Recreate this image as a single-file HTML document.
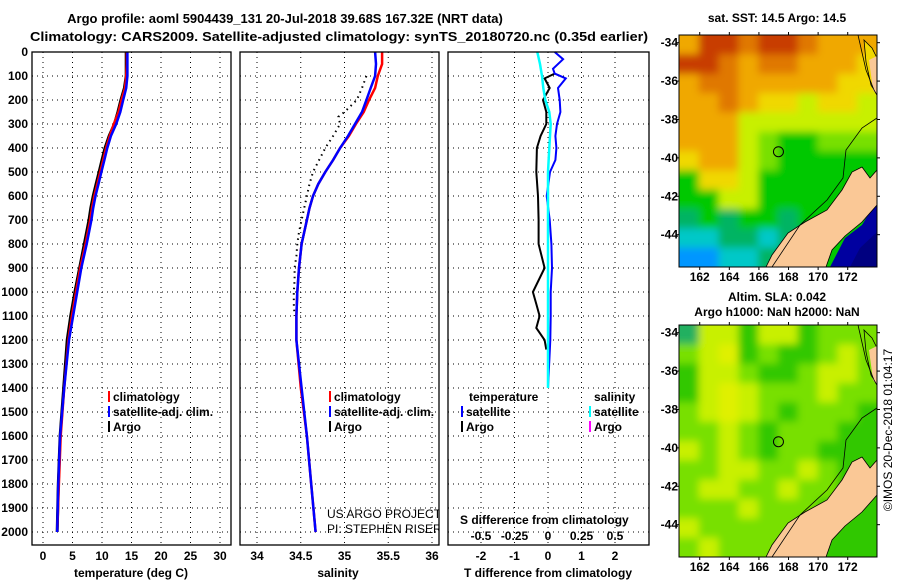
<!DOCTYPE html>
<html><head><meta charset="utf-8"><style>
html,body{margin:0;padding:0;background:#fff;}
svg{display:block;font-family:"Liberation Sans",sans-serif;font-weight:bold;}
</style></head><body>
<svg id="fig" width="900" height="580" viewBox="0 0 900 580" xmlns="http://www.w3.org/2000/svg">
<defs>
<filter id="blur" x="-10%" y="-10%" width="120%" height="120%"><feGaussianBlur stdDeviation="4"/></filter>
<clipPath id="m1"><rect x="679" y="35" width="198" height="232"/></clipPath>
<clipPath id="m2"><rect x="679" y="325" width="198" height="232"/></clipPath>
</defs>
<text x="285" y="23" font-size="13" text-anchor="middle">Argo profile: aoml 5904439_131 20-Jul-2018 39.68S 167.32E (NRT data)</text>
<text x="30" y="41" font-size="13" textLength="618" lengthAdjust="spacingAndGlyphs">Climatology: CARS2009. Satellite-adjusted climatology: synTS_20180720.nc (0.35d earlier)</text>
<text x="777" y="22" font-size="12" text-anchor="middle">sat. SST: 14.5 Argo: 14.5</text>
<text x="777" y="301" font-size="12" text-anchor="middle">Altim. SLA: 0.042</text>
<text x="777" y="316" font-size="12" text-anchor="middle">Argo h1000: NaN h2000: NaN</text>
<text transform="translate(892,430) rotate(-90)" font-size="12" font-weight="normal" text-anchor="middle">©IMOS 20-Dec-2018 01:04:17</text>
<g id="g"></g>
</svg>
<script>
// ---- data ----
const depths = [0,50,100,150,200,250,300,350,400,450,500,550,600,650,700,800,900,1000,1100,1200,1400,1600,1800,2000];
const tempClim = [14.2,14.2,14.1,13.9,13.3,12.8,12.0,11.3,10.7,10.2,9.7,9.2,8.7,8.3,8.0,7.2,6.3,5.6,4.9,4.3,3.6,3.0,2.7,2.4];
const tempSat  = [14.3,14.3,14.3,14.1,13.6,13.1,12.4,11.5,10.9,10.4,9.9,9.4,8.9,8.5,8.2,7.4,6.5,5.8,5.1,4.4,3.6,2.9,2.6,2.4];
const tempArgo = [14.1,14.1,14.1,13.8,13.2,12.7,12.1,11.2,10.5,10.0,9.5,9.0,8.5,8.1,7.8,7.0,6.2,5.4,4.7,4.1,3.5,2.9,2.6,2.4];
const salClim = [35.43,35.43,35.38,35.35,35.28,35.22,35.13,35.05,34.95,34.87,34.78,34.70,34.64,34.60,34.57,34.51,34.48,34.46,34.45,34.45,34.50,34.57,34.62,34.67];
const salSat  = [35.35,35.36,35.35,35.30,35.25,35.20,35.12,35.04,34.95,34.87,34.78,34.70,34.64,34.60,34.57,34.51,34.48,34.46,34.45,34.45,34.51,34.57,34.62,34.67];
const argoSalDepths = [100,150,200,250,270,300,350,400,450,500,550,600,650,700,750,800,850,900,950,1000,1050,1100];
const argoSal = [35.25,35.20,35.14,35.00,34.93,34.95,34.87,34.78,34.71,34.64,34.60,34.57,34.54,34.51,34.48,34.46,34.45,34.43,34.43,34.42,34.42,34.43];
const dTDepths = [90,110,150,200,250,300,350,400,500,600,700,800,900,1000,1050,1100,1150,1200,1240];
const dTArgo = [0.2,-0.1,0.05,-0.15,-0.05,-0.05,-0.22,-0.33,-0.35,-0.3,-0.28,-0.28,-0.1,-0.45,-0.35,-0.25,-0.35,-0.1,-0.05];
const dTSatDepths = [0,30,70,90,110,150,200,250,300,350,400,450,500,600,700,800,900,1000,1100,1200,1400];
const dTSat = [0.2,0.45,0.15,0.2,0.53,0.3,0.35,0.37,0.27,0.22,0.25,0.22,0.06,-0.04,0.05,0.1,0.12,0.08,0.08,0.07,0.0];
const dSSatDepths = [0,50,100,150,200,250,300,400,500,700,1000,1400];
const dSSat = [-0.08,-0.06,-0.045,-0.035,-0.02,0.01,0.02,0.01,0.0,0.0,0.0,0.0];
const depthTicks = [0,100,200,300,400,500,600,700,800,900,1000,1100,1200,1300,1400,1500,1600,1700,1800,1900,2000];
const tempTicks = [0,5,10,15,20,25,30];
const salTicks = [34,34.5,35,35.5,36];
const salTickLabels = ["34","34.5","35","35.5","36"];
const dTTicks = [-2,-1,0,1,2];
const dSTickLabels = ["-0.5","-0.25","0","0.25","0.5"];
const lonTicks = [162,164,166,168,170,172];
const latTicks = [-34,-36,-38,-40,-42,-44];
const sstGrid = [
"ARRORROAAA","RROAOOAAAY","AOOAAAAAYY","AAOAYYLYYL","AAALLLLLLL","AAALGggGGG",
"YAALGggggg","gYYLgggggg","ggLLgggggg","TgTggTgggg","CCTTCTTggg","BBCCTTgggD"];
const slaGrid = [
"TLLgLLgGGG","GLYgGggGLG","gLLGggGLLG","gLYLGGGLGG","GLYLGgGGGg","GGLGgGGGgg",
"LGLGgGGggg","GGLLGGLGgg","GLLGGLGGgg","GGGLGGGggg","LGGGGGgggg","GLGGGGGggg"];
// ---- helpers ----
const NS="http://www.w3.org/2000/svg";
const G=document.getElementById('g');
function mk(tag,attrs,parent){const e=document.createElementNS(NS,tag);for(const k in attrs)e.setAttribute(k,attrs[k]);(parent||G).appendChild(e);return e;}
function txt(x,y,s,size,anchor,parent){const t=mk('text',{x:x,y:y,'font-size':size||12,'text-anchor':anchor||'middle'},parent);t.textContent=s;return t;}
const yD=d=>52+d*0.24;
const xT=t=>43+t*5.9;
const xS=s=>257+(s-34)*87.5;
const xDT=v=>548+v*33.5;
const xDS=v=>548+v*4*33.5;
const TOP=52, BOT=545;
const panels=[[32,231],[240,439],[448,649]];
function hgrid(x0,x1){depthTicks.forEach(d=>{const l=mk('line',{x1:x0,x2:x1,y1:yD(d),y2:yD(d),stroke:'#000','stroke-width':1,'stroke-dasharray':'1,4'});

});}
function vgrid(xs){xs.forEach(x=>{const l=mk('line',{x1:x,x2:x,y1:TOP,y2:BOT,stroke:'#000','stroke-width':1,'stroke-dasharray':'1,4'});

});}
panels.forEach(p=>hgrid(p[0],p[1]));
vgrid(tempTicks.map(xT));vgrid(salTicks.map(xS));vgrid(dTTicks.map(xDT));
depthTicks.forEach(d=>{const t=txt(28,yD(d)+4,String(d),12,'end');

});
tempTicks.forEach(v=>{const t=txt(xT(v),560,String(v),12);

});
salTicks.forEach((v,i)=>{const t=txt(xS(v),560,salTickLabels[i],12);

});
dTTicks.forEach(v=>{const t=txt(xDT(v),560,v<0?'-'+Math.abs(v):String(v),12);

});
dSTickLabels.forEach((s,i)=>{const t=txt(xDT(dTTicks[i]),540,s,12);

});
let t;
t=txt(131,577,'temperature (deg C)',12);
t=txt(338,577,'salinity',12);
t=txt(548,577,'T difference from climatology',12);
t=txt(460,524,'S difference from climatology',12,'start');
function line(xs,ds,fx,color,w,dash,name){const pts=xs.map((v,i)=>fx(v).toFixed(1)+','+yD(ds[i]).toFixed(1)).join(' ');
const a={points:pts,fill:'none',stroke:color,'stroke-width':w};if(dash)a['stroke-dasharray']=dash;
const p=mk('polyline',a);

}
line(tempArgo,depths,xT,'#000',3,null,'temperature-argo-line');
line(tempClim,depths,xT,'#f00',2.5,null,'temperature-climatology-line');
line(tempSat,depths,xT,'#00f',2.5,null,'temperature-satellite-line');
line(argoSal,argoSalDepths,xS,'#000',2,'1.5,4','salinity-argo-line');
line(salClim,depths,xS,'#f00',2.5,null,'salinity-climatology-line');
line(salSat,depths,xS,'#00f',2.5,null,'salinity-satellite-line');
line(dTArgo,dTDepths,xDT,'#000',2,null,'t-diff-argo-line');
line(dTSat,dTSatDepths,xDT,'#00f',2,null,'t-diff-satellite-line');
line(dSSat,dSSatDepths,xDS,'#0ff',2.5,null,'s-diff-satellite-line');
panels.forEach(p=>{const r=mk('rect',{x:p[0],y:TOP,width:p[1]-p[0],height:BOT-TOP,fill:'none',stroke:'#000','stroke-width':1.3});

});
function leg(x,y,color,label,name){const r=mk('rect',{x:x,y:y-10,width:2,height:11,fill:color});


const tt=txt(x+5,y,label,12,'start');

}
leg(108,401,'#f00','climatology','legend-climatology');
leg(108,416,'#00f','satellite-adj. clim.','legend-satellite-adj');
leg(108,431,'#000','Argo','legend-argo');
leg(329,401,'#f00','climatology','legend-climatology-sal');
leg(329,416,'#00f','satellite-adj. clim.','legend-satellite-adj-sal');
leg(329,431,'#000','Argo','legend-argo-sal');
t=txt(469,401,'temperature',12,'start');
t=txt(594,401,'salinity',12,'start');
leg(461,416,'#00f','satellite','legend-t-satellite');
leg(461,431,'#000','Argo','legend-t-argo');
leg(589,416,'#0ff','satellite','legend-s-satellite');
leg(589,431,'#f0f','Argo','legend-s-argo');
const cp=mk('clipPath',{id:'c2'});mk('rect',{x:240,y:TOP,width:199,height:BOT-TOP},cp);
t=txt(327,518,'US ARGO PROJECT',12,'start');t.setAttribute('font-weight','normal');t.setAttribute('clip-path','url(#c2)');
t=txt(327,533,'PI: STEPHEN RISER',12,'start');t.setAttribute('font-weight','normal');t.setAttribute('clip-path','url(#c2)');
// ---- maps ----
const COL={R:'#c83c00',O:'#e07800',A:'#f0a800',Y:'#f0d800',L:'#c8f000',G:'#78e000',g:'#00c800',T:'#00b464',C:'#00c8c8',B:'#0096ff',D:'#0000a0'};
const COL2={T:'#20b060',L:'#c8f000',Y:'#e0f000',G:'#78e000',g:'#30c800'};
function map(top,grid,cmap,isSST,name,clip){
  const x0=679,w=198,h=232;
  const lonX=lon=>x0+(lon-160.6)*14.8, latY=lat=>top+(-33.6-lat)*19.2;
  const grp=mk('g',{});
  
  
  const cg=mk('g',{'clip-path':'url(#'+clip+')'},grp);
  const bg=mk('g',{filter:'url(#blur)'},cg);
  const cw=w/10,ch=h/12;
  grid.forEach((row,ri)=>{for(let ci=0;ci<10;ci++){
    let x=x0+ci*cw,y=top+ri*ch,ww=cw+0.5,hh=ch+0.5;
    if(ci==0){x-=12;ww+=12;} if(ci==9){ww+=12;}
    if(ri==0){y-=12;hh+=12;} if(ri==11){hh+=12;}
    mk('rect',{x:x.toFixed(1),y:y.toFixed(1),width:ww.toFixed(1),height:hh.toFixed(1),fill:cmap[row[ci]]},bg);}});
  const P=a=>a.map(p=>p[0]+','+(top+p[1]-35)).join(' ');
  mk('polygon',{points:P([[830,267],[877,267],[877,200],[862,225],[845,238]]),fill:isSST?'#0000a0':'#30c800'},cg);
  if(isSST) mk('polygon',{points:P([[850,267],[877,267],[877,232],[860,248]]),fill:'#000080'},cg);
  const land=mk('polygon',{points:P([[766,267],[772,255],[788,233],[805,222],[827,210],[842,190],[852,172],[862,167],[870,178],[877,170],[877,205],[862,222],[845,236],[832,250],[826,267]]),fill:'#fac896',stroke:'#000','stroke-width':0.8},cg);
  
  
  mk('polygon',{points:P([[864,40],[872,48],[877,58],[877,95],[871,85],[866,62]]),fill:isSST?'#f0d800':'#78e000',stroke:'#000','stroke-width':0.8},cg);
  mk('polygon',{points:P([[869,60],[877,56],[877,95],[873,90]]),fill:'#fac896'},cg);
  mk('polyline',{points:P([[772,267],[800,225],[827,200],[843,178],[846,150],[862,128],[877,118]]),fill:'none',stroke:'#000','stroke-width':0.8},cg);
  mk('polyline',{points:P([[858,35],[866,70],[874,90],[877,95]]),fill:'none',stroke:'#000','stroke-width':0.8},cg);
  const c=mk('circle',{cx:lonX(167.32),cy:latY(-39.68),r:5,fill:'none',stroke:'#000','stroke-width':1},grp);
  
  
  mk('rect',{x:x0,y:top,width:w,height:h,fill:'none',stroke:'#000','stroke-width':1},grp);
  lonTicks.forEach(l=>{const x=lonX(l);mk('line',{x1:x,x2:x,y1:top,y2:top-3,stroke:'#000'},grp);mk('line',{x1:x,x2:x,y1:top+h,y2:top+h+3,stroke:'#000'},grp);
    const tl=txt(x,top+h+14,String(l),12,'middle',grp);
    
    });
  latTicks.forEach(l=>{const y=latY(l);mk('line',{x1:x0-3,x2:x0,y1:y,y2:y,stroke:'#000'},grp);mk('line',{x1:x0+w,x2:x0+w+3,y1:y,y2:y,stroke:'#000'},grp);
    const tl=txt(x0-1,y+4,String(l),12,'end',grp);
    
    });
}
map(35,sstGrid,COL,true,'sst-map','m1');
map(325,slaGrid,COL2,false,'sla-map','m2');
</script>
</body></html>
